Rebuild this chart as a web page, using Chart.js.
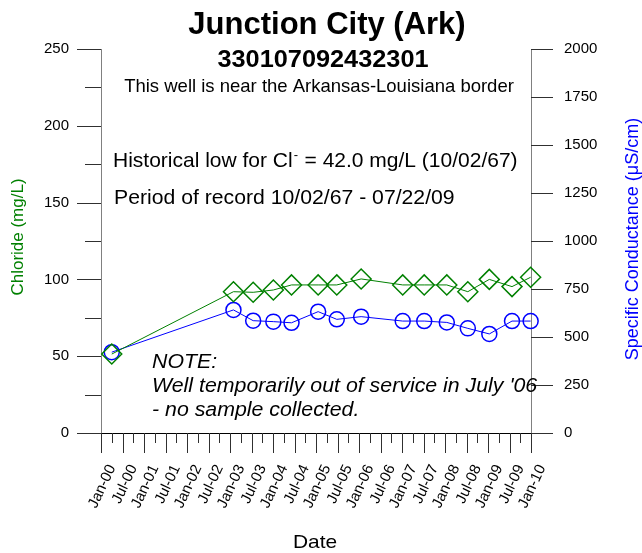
<!DOCTYPE html>
<html lang="en">
<head>
<meta charset="UTF-8">
<title>Junction City (Ark)</title>
<style>
  body { margin: 0; background: #fff; }
  #box { width: 642px; height: 553px; }
</style>
</head>
<body>
<div id="box"><canvas id="myChart"></canvas></div>

<script src="https://cdn.jsdelivr.net/npm/chart.js"></script>
<script>
// sample dates and values
const sampleDates = ['2000-04-01', '2003-01-30', '2003-07-15', '2004-01-04', '2004-06-06',
    '2005-01-19', '2005-06-25', '2006-01-19', '2007-01-07', '2007-07-07',
    '2008-01-16', '2008-07-12', '2009-01-12', '2009-07-22', '2009-12-28'];
const chloride = [51.4, 92, 91.6, 93.1, 96.4, 96.4, 96.4, 100.3, 96.4, 96.4, 96.4, 92, 100, 95.3, 101.4];
const conductance = [421, 641, 585, 580, 574, 632, 592, 606, 583, 583, 576, 545, 516, 583, 583];

const monthNames = ['Jan', 'Feb', 'Mar', 'Apr', 'May', 'Jun', 'Jul', 'Aug', 'Sep', 'Oct', 'Nov', 'Dec'];
const startYear = 2000;
const clTicks = [0, 50, 100, 150, 200, 250];
const scTicks = [0, 250, 500, 750, 1000, 1250, 1500, 1750, 2000];

const FONT = "'Liberation Sans', Arial, Helvetica, sans-serif";

// months since Jan 2000
function f_month(s) {
    let p = s.split('-');
    return (parseInt(p[0]) - startYear) * 12 + (parseInt(p[1]) - 1) + (parseInt(p[2]) - 1) / 30;
}

let v_x = sampleDates.map(f_month);
let v_cl = v_x.map((x, i) => ({ x: x, y: chloride[i] }));
let v_sc = v_x.map((x, i) => ({ x: x, y: conductance[i] }));

// text with a little horizontal stretch
function f_text(ctx, str, x, y, font, align, sx, color) {
    ctx.save();
    ctx.font = font;
    ctx.fillStyle = color || '#000';
    ctx.textBaseline = 'alphabetic';
    let w = ctx.measureText(str).width * sx;
    let left = align === 'center' ? x - w / 2 : x;
    ctx.translate(left, y);
    ctx.scale(sx, 1);
    ctx.textAlign = 'left';
    ctx.fillText(str, 0, 0);
    ctx.restore();
    return w;
}

const extras = {
    id: 'extras',
    afterDraw(chart) {
        const ctx = chart.ctx;
        const xs = chart.scales.x, yl = chart.scales.y, yr = chart.scales.y1;
        const bottom = chart.chartArea.bottom;

        // tick marks
        ctx.save();
        ctx.lineWidth = 1;
        ctx.strokeStyle = '#303030';
        ctx.beginPath();
        for (let v = 0; v <= 250; v += 25) {
            let y = Math.round(yl.getPixelForValue(v)) + 0.5;
            let len = (v % 50 == 0) ? 24 : 16;
            ctx.moveTo(yl.right - len, y); ctx.lineTo(yl.right, y);
        }
        for (let v = 0; v <= 2000; v += 250) {
            let y = Math.round(yr.getPixelForValue(v)) + 0.5;
            ctx.moveTo(yr.left, y); ctx.lineTo(yr.left + 22, y);
        }
        for (let m = 0; m <= 120; m += 3) {
            let x = Math.round(xs.getPixelForValue(m)) + 0.5;
            let len = (m % 6 == 0) ? 20 : 10;
            ctx.moveTo(x, bottom); ctx.lineTo(x, bottom + len);
        }
        ctx.stroke();
        ctx.restore();

        // titles and notes
        f_text(ctx, 'Junction City (Ark)', 327, 34, 'bold 31px ' + FONT, 'center', 1.0);
        f_text(ctx, '330107092432301', 323, 66.5, 'bold 23px ' + FONT, 'center', 1.1);
        f_text(ctx, 'This well is near the Arkansas-Louisiana border', 319, 92, '18.5px ' + FONT, 'center', 1.0);

        let w = f_text(ctx, 'Historical low for Cl', 113, 167, '21px ' + FONT, 'left', 1.0);
        f_text(ctx, '-', 113 + w + 1, 159, '13px ' + FONT, 'left', 1.0);
        f_text(ctx, ' = 42.0 mg/L (10/02/67)', 113 + w + 6, 167, '21px ' + FONT, 'left', 1.0);
        f_text(ctx, 'Period of record 10/02/67 - 07/22/09', 114, 204, '20px ' + FONT, 'left', 1.06);

        f_text(ctx, 'NOTE:', 152, 368, 'italic 20.5px ' + FONT, 'left', 1.04);
        f_text(ctx, "Well temporarily out of service in July '06", 152, 392, 'italic 20.5px ' + FONT, 'left', 1.04);
        f_text(ctx, '- no sample collected.', 152, 416, 'italic 20.5px ' + FONT, 'left', 1.04);

        f_text(ctx, 'Date', 315, 548, '19px ' + FONT, 'center', 1.1);

        // axis titles, both reading bottom to top
        ctx.save();
        ctx.translate(23, 237);
        ctx.rotate(-Math.PI / 2);
        f_text(ctx, 'Chloride (mg/L)', 0, 0, '17px ' + FONT, 'center', 1.0, '#008000');
        ctx.restore();

        ctx.save();
        ctx.translate(638, 239);
        ctx.rotate(-Math.PI / 2);
        f_text(ctx, 'Specific Conductance (\u03BCS/cm)', 0, 0, '18px ' + FONT, 'center', 1.0, '#0000ff');
        ctx.restore();
    }
};

const ctx = document.querySelector('#myChart');
new Chart(ctx, {
    type: 'line',
    data: {
        datasets: [{
            label: 'Chloride',
            data: v_cl,
            yAxisID: 'y',
            clip: false,
            borderColor: '#008000',
            backgroundColor: 'rgba(0,0,0,0)',
            borderWidth: 1,
            pointStyle: 'rectRot',
            pointRadius: 10,
            pointBorderWidth: 1.5,
            pointBorderColor: '#008000',
            pointBackgroundColor: 'rgba(0,0,0,0)',
            tension: 0
        }, {
            label: 'Specific Conductance',
            data: v_sc,
            yAxisID: 'y1',
            clip: false,
            borderColor: '#0000ff',
            backgroundColor: 'rgba(0,0,0,0)',
            borderWidth: 1,
            pointStyle: 'circle',
            pointRadius: 7.5,
            pointBorderWidth: 1.5,
            pointBorderColor: '#0000ff',
            pointBackgroundColor: 'rgba(0,0,0,0)',
            tension: 0
        }]
    },
    options: {
        responsive: true,
        maintainAspectRatio: false,
        animation: false,
        layout: { padding: { top: 49 } },
        plugins: {
            legend: { display: false },
            tooltip: { enabled: false }
        },
        scales: {
            x: {
                type: 'linear',
                position: 'bottom',
                min: 0,
                max: 120,
                afterFit: (s) => { s.height = 120; },
                grid: { display: false, drawTicks: false },
                border: { display: true, color: '#000', width: 1 },
                ticks: {
                    stepSize: 3,
                    autoSkip: false,
                    minRotation: 65,
                    maxRotation: 65,
                    padding: 29,
                    labelOffset: 11,
                    color: '#000',
                    font: { family: FONT, size: 15 },
                    callback: (v) => {
                        if (v % 6 != 0) return '';
                        let yr = startYear + Math.floor(v / 12);
                        return monthNames[v % 12] + '-' + String(yr % 100).padStart(2, '0');
                    }
                }
            },
            y: {
                position: 'left',
                min: 0,
                max: 250,
                afterFit: (s) => { s.width = 101; },
                grid: { display: false, drawTicks: false },
                border: { display: true, color: '#808080', width: 1 },
                afterBuildTicks: (s) => { s.ticks = clTicks.map(v => ({ value: v })); },
                ticks: {
                    padding: 32,
                    color: '#000',
                    font: { family: FONT, size: 15 },
                    callback: (v) => String(v)
                }
            },
            y1: {
                position: 'right',
                min: 0,
                max: 2000,
                afterFit: (s) => { s.width = 111; },
                grid: { display: false, drawTicks: false },
                border: { display: true, color: '#808080', width: 1 },
                afterBuildTicks: (s) => { s.ticks = scTicks.map(v => ({ value: v })); },
                ticks: {
                    padding: 33,
                    color: '#000',
                    font: { family: FONT, size: 15 },
                    callback: (v) => String(v)
                }
            }
        }
    },
    plugins: [extras]
});
</script>
</body>
</html>
